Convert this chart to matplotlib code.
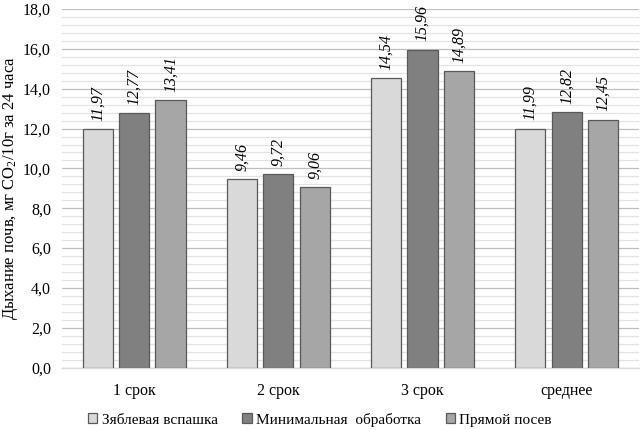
import matplotlib
matplotlib.use("Agg")
import matplotlib.pyplot as plt
import numpy as np
from matplotlib.ticker import MultipleLocator, FuncFormatter

plt.rcParams['font.family'] = ['Liberation Serif', 'DejaVu Serif']
plt.rcParams['mathtext.fontset'] = 'custom'
plt.rcParams['mathtext.rm'] = 'Liberation Serif'
plt.rcParams['mathtext.it'] = 'Liberation Serif:italic'

categories = ["1 срок", "2 срок", "3 срок", "среднее"]
series_names = ["Зяблевая вспашка", "Минимальная  обработка", "Прямой посев"]
zyablevaya = [11.97, 9.46, 14.54, 11.99]
minimalnaya = [12.77, 9.72, 15.96, 12.82]
pryamoy = [13.41, 9.06, 14.89, 12.45]
colors = ["#d9d9d9", "#808080", "#a6a6a6"]

fig = plt.figure(figsize=(6.4, 4.3), dpi=100)
ax = fig.add_axes([0.097, 0.145, 0.901, 0.834])

x = np.arange(len(categories))
width = 0.21
offsets = [-0.253, 0.0, 0.253]
handles = []
for vals, off, col, name in zip([zyablevaya, minimalnaya, pryamoy], offsets, colors, series_names):
    bars = ax.bar(x + off, vals, width, color=col, edgecolor="#595959", linewidth=0.9, label=name, zorder=3)
    handles.append(bars)
    for xi, v in zip(x + off, vals):
        ax.annotate(f"{v:.2f}".replace(".", ","), (xi, v), xytext=(0, 6), textcoords="offset points",
                    rotation=90, ha="center", va="bottom", fontsize=11.5, style="italic", zorder=4)

ax.set_xlim(-0.5, len(categories) - 0.5)
ax.set_ylim(0, 18)
ax.yaxis.set_major_locator(MultipleLocator(2))
ax.yaxis.set_minor_locator(MultipleLocator(0.4))
ax.yaxis.set_major_formatter(FuncFormatter(lambda v, p: f"{v:.1f}".replace(".", ",")))
ax.grid(axis="y", which="major", color="#bfbfbf", linewidth=0.9, zorder=0)
ax.grid(axis="y", which="minor", color="#e3e3e3", linewidth=0.9, zorder=0)
ax.set_axisbelow(True)
for s in ["top", "right", "left"]:
    ax.spines[s].set_visible(False)
ax.spines["bottom"].set_color("#d9d9d9")
ax.spines["bottom"].set_linewidth(1.0)
ax.tick_params(axis="both", which="both", length=0, labelsize=11.5)
ax.tick_params(axis="x", pad=11)
ax.tick_params(axis="y", pad=8)
ax.set_xticks(x)
ax.set_xticklabels(categories)
ax.set_ylabel("Дыхание почв, мг CO$_2$/10г за 24 часа", fontsize=12, labelpad=2)

fig.legend(handles=handles, labels=series_names, loc="center", bbox_to_anchor=(0.5, 0.024),
           ncol=3, frameon=False, fontsize=11, handlelength=0.6, handleheight=0.6,
           handletextpad=0.3, columnspacing=1.6)

fig.savefig("out.png", dpi=100)
